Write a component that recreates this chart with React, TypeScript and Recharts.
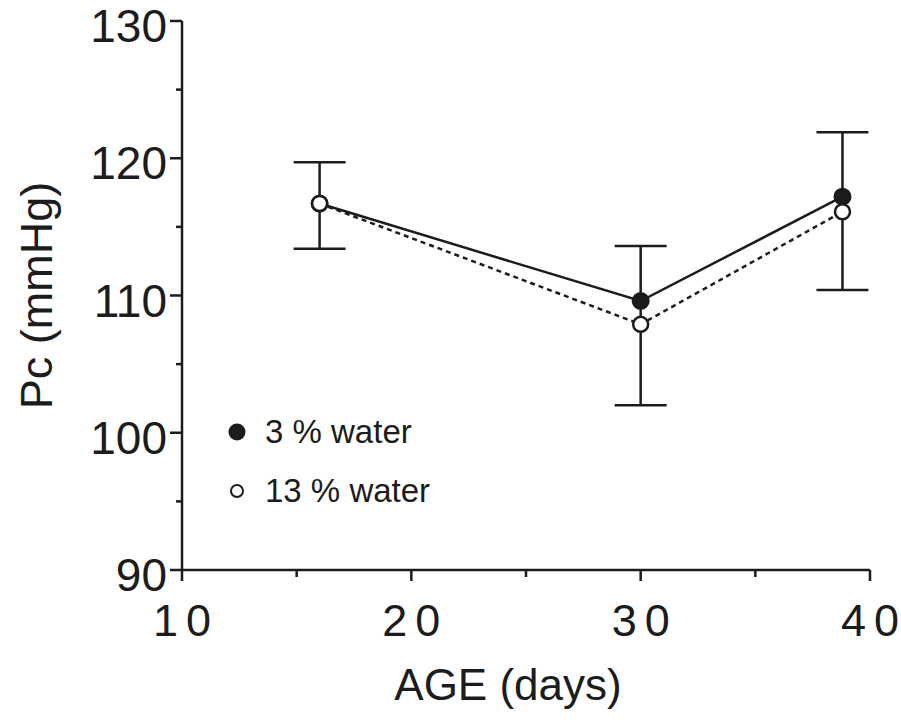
import React from "react";
import { LineChart, Line, XAxis, YAxis, ErrorBar, Legend } from "recharts";

// Age in days at each measurement
const ageDays = [16, 30, 38.8];
// Mean Pc (mmHg) for each diet group
const pc3Water = [116.7, 109.6, 117.2];
const pc13Water = [116.7, 107.9, 116.1];
// Extent of the error whiskers (mmHg)
const whiskerHigh = [119.7, 113.6, 121.9];
const whiskerLow = [113.4, 102.0, 110.4];

const xTicks = [10, 15, 20, 25, 30, 35, 40];
const yTicks = [90, 95, 100, 105, 110, 115, 120, 125, 130];
const xLabels = [10, 20, 30, 40];
const yLabels = [90, 100, 110, 120, 130];

const FONT = "'Liberation Sans', Arial, Helvetica, sans-serif";
const INK = "#1c1c1c";

const rows = ageDays.map((age, i) => ({
  age,
  dry: pc3Water[i],
  wet: pc13Water[i],
  err: [pc3Water[i] - whiskerLow[i], whiskerHigh[i] - pc3Water[i]],
}));

const XTick = (props: any) => {
  const { x, y, payload } = props;
  const major = xLabels.includes(payload.value);
  const digits = String(payload.value).split("");
  return (
    <g>
      <line x1={x} x2={x} y1={y} y2={y + (major ? 11 : 7)} stroke={INK} strokeWidth={2.5} />
      {major && (
        <text x={x} y={y + 66} textAnchor="middle" fontFamily={FONT} fontSize={45} fill={INK}>
          <tspan>{digits[0]}</tspan>
          <tspan dx={8}>{digits[1]}</tspan>
        </text>
      )}
    </g>
  );
};

const YTick = (props: any) => {
  const { x, y, payload } = props;
  const major = yLabels.includes(payload.value);
  return (
    <g>
      <line x1={x - (major ? 12 : 6)} x2={x} y1={y} y2={y} stroke={INK} strokeWidth={2.5} />
      {major && (
        <text x={x - 15} y={y + 21} textAnchor="end" fontFamily={FONT} fontSize={46} fill={INK}>
          {payload.value}
        </text>
      )}
    </g>
  );
};

const XTitle = (props: any) => {
  const { viewBox } = props;
  const cx = viewBox.x + viewBox.width / 2 - 18;
  return (
    <text x={cx} y={viewBox.y + 130} textAnchor="middle" fontFamily={FONT} fontSize={44} fill={INK}>
      AGE (days)
    </text>
  );
};

const YTitle = (props: any) => {
  const { viewBox } = props;
  const cy = viewBox.y + viewBox.height / 2;
  const cx = 52;
  return (
    <text
      x={cx}
      y={cy}
      transform={`rotate(-90 ${cx} ${cy})`}
      textAnchor="middle"
      fontFamily={FONT}
      fontSize={45}
      fill={INK}
    >
      Pc (mmHg)
    </text>
  );
};

const legendItems = [
  { label: "3 % water", filled: true },
  { label: "13 % water", filled: false },
];

const LegendBox = () => (
  <div style={{ fontFamily: FONT, color: INK }}>
    {legendItems.map((it) => (
      <div key={it.label} style={{ display: "flex", alignItems: "center", height: 59 }}>
        <svg width={40} height={30} style={{ marginRight: 8 }}>
          <circle
            cx={20}
            cy={15}
            r={it.filled ? 7.5 : 6}
            fill={it.filled ? INK : "#fff"}
            stroke={INK}
            strokeWidth={2}
          />
        </svg>
        <span style={{ fontSize: 33 }}>{it.label}</span>
      </div>
    ))}
  </div>
);

export default function App() {
  return (
    <div style={{ position: "absolute", left: 0, top: 0, background: "#fff" }}>
      <LineChart
        width={901}
        height={724}
        data={rows}
        margin={{ top: 21, right: 31, bottom: 44, left: 62 }}
      >
        <XAxis
          dataKey="age"
          type="number"
          domain={[10, 40]}
          ticks={xTicks}
          tick={<XTick />}
          tickLine={false}
          tickSize={0}
          tickMargin={0}
          height={110}
          axisLine={{ stroke: INK, strokeWidth: 2.5 }}
          label={<XTitle />}
          allowDataOverflow
        />
        <YAxis
          type="number"
          domain={[90, 130]}
          ticks={yTicks}
          tick={<YTick />}
          tickLine={false}
          tickSize={0}
          tickMargin={0}
          width={120}
          axisLine={{ stroke: INK, strokeWidth: 2.5 }}
          label={<YTitle />}
          allowDataOverflow
        />
        <Legend
          layout="vertical"
          verticalAlign="middle"
          align="center"
          wrapperStyle={{ left: 217, top: 402, width: 280 }}
          content={<LegendBox />}
        />
        <Line
          dataKey="dry"
          stroke={INK}
          strokeWidth={2.5}
          isAnimationActive={false}
          dot={{ r: 8, fill: INK, stroke: INK, strokeWidth: 2 }}
          activeDot={false}
        >
          <ErrorBar dataKey="err" width={26} stroke={INK} strokeWidth={2.5} direction="y" />
        </Line>
        <Line
          dataKey="wet"
          stroke={INK}
          strokeWidth={2.5}
          strokeDasharray="5 4"
          isAnimationActive={false}
          dot={{ r: 7.5, fill: "#fff", stroke: INK, strokeWidth: 2.5, strokeDasharray: "0" }}
          activeDot={false}
        />
      </LineChart>
    </div>
  );
}
